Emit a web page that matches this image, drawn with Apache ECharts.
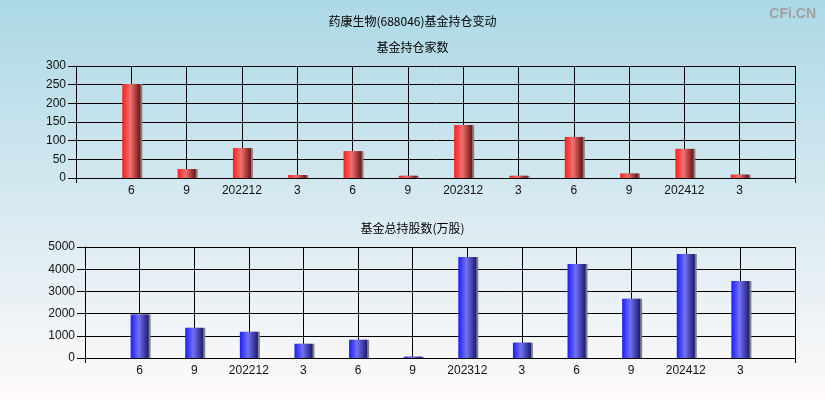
<!DOCTYPE html>
<html>
<head>
<meta charset="utf-8">
<script src="https://cdn.jsdelivr.net/npm/echarts@6/dist/echarts.min.js"></script>
<style>
html,body{margin:0;padding:0;}
#c{width:825px;height:400px;background:linear-gradient(to bottom,#acd8e6 0%,#fffafa 100%);}
</style>
</head>
<body>
<div id="c"></div>
<script>
var categories = ['', '6', '9', '202212', '3', '6', '9', '202312', '3', '6', '9', '202412', '3', ''];
var fundCount = ['-', 252, 24, 80, 8, 72, 6, 142, 6, 110, 12, 78, 9, '-'];
var fundShares = ['-', 1960, 1360, 1180, 640, 820, 60, 4550, 690, 4235, 2665, 4685, 3470, '-'];
var countTicks = [0, 300, 50];
var sharesTicks = [0, 5000, 1000];

var chart = echarts.init(document.getElementById('c'), null, {renderer: 'canvas'});
var numFont = 'Liberation Sans, Arial, sans-serif';
var cjkFont = 'Noto Sans CJK SC, sans-serif';

function xAxis(gi) {
  return {
    type: 'category', gridIndex: gi, data: categories, boundaryGap: false,
    axisLine: {lineStyle: {color: '#000', width: 1}},
    axisTick: {show: true, length: 5, lineStyle: {color: '#000'},
      interval: function (i) { return i === 0 || i === categories.length - 1; }},
    axisLabel: {color: '#111', fontFamily: numFont, fontSize: 12, margin: 7, interval: 0},
    splitLine: {show: true, lineStyle: {color: '#000', width: 1}}
  };
}
function yAxis(gi, t) {
  return {
    type: 'value', gridIndex: gi, min: t[0], max: t[1], interval: t[2],
    axisLine: {show: true, lineStyle: {color: '#000'}},
    axisTick: {show: true, length: 8, lineStyle: {color: '#000'}},
    axisLabel: {color: '#111', fontFamily: numFont, fontSize: 12, margin: 10,
      formatter: function (v) { return String(v); }},
    splitLine: {show: true, lineStyle: {color: '#000', width: 1}}
  };
}
var redGrad = new echarts.graphic.LinearGradient(0, 0, 1, 0, [
  {offset: 0, color: '#ff1c1c'}, {offset: 0.45, color: '#ef7272'}, {offset: 1, color: '#6e1212'}
]);
var blueGrad = new echarts.graphic.LinearGradient(0, 0, 1, 0, [
  {offset: 0, color: '#1c1cff'}, {offset: 0.45, color: '#7272f2'}, {offset: 1, color: '#1a1a72'}
]);

chart.setOption({
  animation: false,
  title: [
    {text: '药康生物(688046)基金持仓变动', left: 'center', top: 10, textStyle: {fontFamily: cjkFont, fontSize: 12, fontWeight: 'normal', color: '#000'}},
    {text: '基金持仓家数', left: 'center', top: 36, textStyle: {fontFamily: cjkFont, fontSize: 12, fontWeight: 'normal', color: '#000'}},
    {text: '基金总持股数(万股)', left: 'center', top: 217, textStyle: {fontFamily: cjkFont, fontSize: 12, fontWeight: 'normal', color: '#000'}},
    {text: 'CFi.CN', right: 4, top: 2, textStyle: {fontFamily: 'Liberation Sans, Arial, sans-serif', fontSize: 14, fontWeight: 'bold', color: '#a0a0a0'}}
  ],
  grid: [
    {left: 76, right: 30, top: 66, height: 112},
    {left: 85, right: 30, top: 247, height: 111}
  ],
  xAxis: [xAxis(0), xAxis(1)],
  yAxis: [yAxis(0, countTicks), yAxis(1, sharesTicks)],
  series: [
    {type: 'bar', xAxisIndex: 0, yAxisIndex: 0, data: fundCount, barWidth: 18,
     itemStyle: {color: redGrad, shadowColor: '#808080', shadowOffsetX: 2, shadowBlur: 0}},
    {type: 'bar', xAxisIndex: 1, yAxisIndex: 1, data: fundShares, barWidth: 18,
     itemStyle: {color: blueGrad, shadowColor: '#808080', shadowOffsetX: 2, shadowBlur: 0}}
  ]
});
</script>
</body>
</html>
